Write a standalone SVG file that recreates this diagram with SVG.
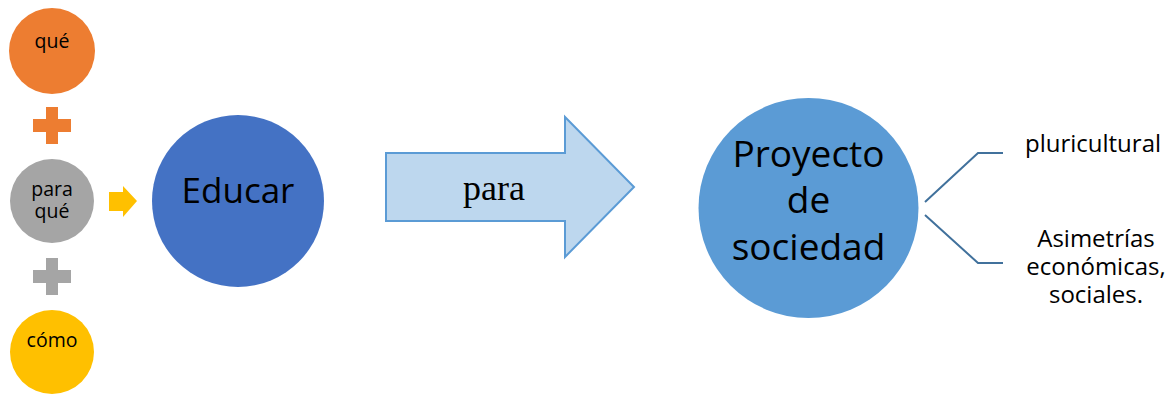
<svg xmlns="http://www.w3.org/2000/svg" width="1175" height="394" viewBox="0 0 1175 394">
<style>
.t{font-family:"Open Sans","Noto Sans",sans-serif;fill:#000;text-anchor:middle}
.s{font-size:19.5px}
.b{font-size:35px}
.p{font-size:37px}
.m{font-size:24px}
.c{fill:none;stroke:#41719C;stroke-width:2}
</style>
<rect width="1175" height="394" fill="#fff"/>
<g id="que">
<circle cx="52" cy="51" r="43" fill="#ED7D31"/>
<text class="t s" x="52" y="48">qué</text>
</g>
<g id="plus1">
<path d="M46 107h12v12h13v13h-13v12h-12v-12h-13v-13h13z" fill="#ED7D31"/>
</g>
<g id="paraque">
<circle cx="52" cy="201" r="42" fill="#A5A5A5"/>
<text class="t s" x="52" y="196">para</text>
<text class="t s" x="52" y="218">qué</text>
</g>
<g id="plus2">
<path d="M46 258h12v12h13v13h-13v12h-12v-12h-13v-13h13z" fill="#A5A5A5"/>
</g>
<g id="como">
<circle cx="52" cy="352" r="42" fill="#FFC000"/>
<text class="t s" x="52" y="347">cómo</text>
</g>
<g id="arrowsmall">
<path d="M109 192h14v-6l14 15l-14 16v-6h-14z" fill="#FFC000"/>
</g>
<g id="educar">
<circle cx="238" cy="201" r="86" fill="#4472C4"/>
<text class="t b" x="238" y="203">Educar</text>
</g>
<g id="para">
<path d="M386 153h179v-36l69 70l-69 70v-36h-179z" fill="#BDD7EE" stroke="#5B9BD5" stroke-width="2"/>
<text x="494" y="200" font-family="Liberation Serif,serif" font-size="36" text-anchor="middle">para</text>
</g>
<g id="proyecto">
<circle cx="808.5" cy="208" r="110" fill="#5B9BD5"/>
<text class="t p" x="808.5" y="167">Proyecto</text>
<text class="t p" x="808.5" y="213">de</text>
<text class="t p" x="808.5" y="260">sociedad</text>
</g>
<g id="connectors">
<path class="c" d="M925 202L978 153H1003"/>
<path class="c" d="M925 215L978 263H1003"/>
</g>
<g id="pluricultural">
<text class="t m" x="1093" y="152">pluricultural</text>
</g>
<g id="asimetrias">
<text class="t m" x="1096" y="247">Asimetrías</text>
<text class="t m" x="1096" y="275">económicas,</text>
<text class="t m" x="1096" y="303">sociales.</text>
</g>
</svg>
